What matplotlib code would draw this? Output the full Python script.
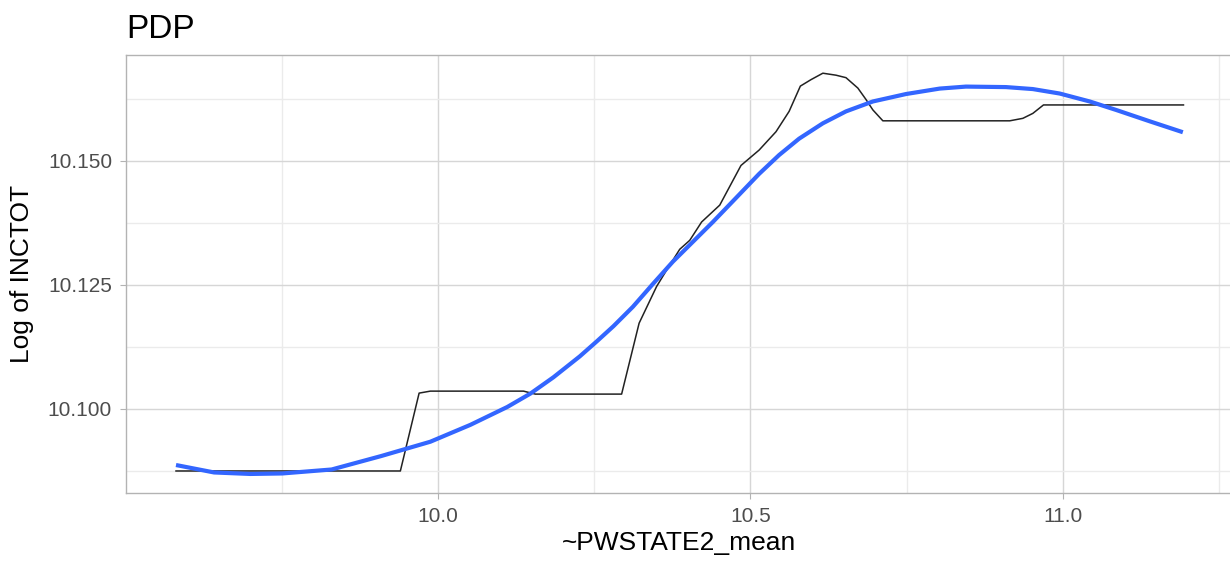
import matplotlib
matplotlib.use("Agg")
import matplotlib.pyplot as plt
from matplotlib.ticker import FixedLocator, FormatStrFormatter

plt.rcParams['font.family'] = ['Liberation Sans', 'DejaVu Sans']

# PDP curve (black)
pdp_x = [9.581, 9.940, 9.970, 9.988, 10.137, 10.156, 10.294, 10.322, 10.350,
         10.366, 10.387, 10.403, 10.422, 10.451, 10.485, 10.514, 10.541, 10.562,
         10.580, 10.597, 10.616, 10.637, 10.653, 10.672, 10.685, 10.696, 10.712,
         10.915, 10.936, 10.952, 10.969, 11.193]
pdp_y = [10.0875, 10.0875, 10.1032, 10.1036, 10.1036, 10.1030, 10.1030, 10.1173, 10.1247,
         10.1280, 10.1322, 10.1340, 10.1377, 10.1411, 10.1491, 10.1522, 10.1559, 10.1600,
         10.1651, 10.1664, 10.1677, 10.1673, 10.1668, 10.1647, 10.1624, 10.1603, 10.1581,
         10.1581, 10.1586, 10.1596, 10.1613, 10.1613]

# Smoothed curve (blue)
smooth_x = [9.581, 9.642, 9.700, 9.751, 9.830, 9.909, 9.988, 10.052, 10.111, 10.148,
            10.185, 10.227, 10.254, 10.281, 10.312, 10.344, 10.376, 10.408, 10.440,
            10.482, 10.514, 10.546, 10.578, 10.616, 10.653, 10.696, 10.749, 10.803,
            10.845, 10.909, 10.952, 10.995, 11.043, 11.085, 11.139, 11.192]
smooth_y = [10.0887, 10.0872, 10.0869, 10.0870, 10.0878, 10.0905, 10.0934, 10.0968, 10.1004, 10.1031,
            10.1064, 10.1106, 10.1136, 10.1167, 10.1206, 10.1252, 10.1297, 10.1337, 10.1377,
            10.1432, 10.1474, 10.1512, 10.1545, 10.1576, 10.1600, 10.1620, 10.1635, 10.1646,
            10.1650, 10.1649, 10.1645, 10.1636, 10.1620, 10.1603, 10.1580, 10.1558]

x_major = [10.0, 10.5, 11.0]
x_minor = [9.75, 10.25, 10.75, 11.25]
y_major = [10.100, 10.125, 10.150]
y_minor = [10.0875, 10.1125, 10.1375, 10.1625]

W, H = 1230, 564
fig = plt.figure(figsize=(W / 100, H / 100), dpi=100)
left, right, top, bottom = 126, 1231.6, 55, 493
ax = fig.add_axes([left / W, (H - bottom) / H, (right - left) / W, (bottom - top) / H])

ax.set_xlim(9.501, 11.27)
ax.set_ylim(10.08306, 10.17137)

ax.xaxis.set_major_locator(FixedLocator(x_major))
ax.xaxis.set_minor_locator(FixedLocator(x_minor))
ax.yaxis.set_major_locator(FixedLocator(y_major))
ax.yaxis.set_minor_locator(FixedLocator(y_minor))
ax.xaxis.set_major_formatter(FormatStrFormatter('%.1f'))
ax.yaxis.set_major_formatter(FormatStrFormatter('%.3f'))

ax.grid(which='major', color='#D6D6D6', linewidth=1.0)
ax.grid(which='minor', color='#EBEBEB', linewidth=1.0)
ax.set_axisbelow(True)

for s in ax.spines.values():
    s.set_color('#B3B3B3')
    s.set_linewidth(1.0)

ax.tick_params(which='major', length=4, width=0.8, color='#B3B3B3',
               labelsize=15, labelcolor='#4D4D4D', pad=6)
ax.tick_params(which='minor', length=0)

ax.plot(pdp_x, pdp_y, color='#222222', linewidth=1.1, zorder=3)
ax.plot(smooth_x, smooth_y, color='#3366FF', linewidth=3.0, zorder=4,
        solid_capstyle='butt', solid_joinstyle='round')

ax.set_xlabel('~PWSTATE2_mean', fontsize=19, color='black', labelpad=4)
ax.set_ylabel('Log of INCTOT', fontsize=19, color='black', labelpad=10)
ax.set_title('PDP', fontsize=24, loc='left', color='black', pad=12)

fig.savefig('out.png', dpi=100)
